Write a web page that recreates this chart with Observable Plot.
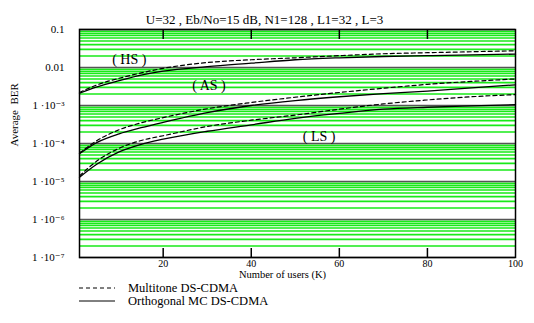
<!DOCTYPE html>
<html>
<head>
<meta charset="utf-8">
<script src="https://cdn.jsdelivr.net/npm/d3@7"></script>
<script src="https://cdn.jsdelivr.net/npm/@observablehq/plot@0.6"></script>
<style>
  body { margin: 0; background: #fff; }
  #chart { width: 534px; }
  #legend { position: relative; height: 38px; font-family: "Liberation Serif", "Times New Roman", "DejaVu Serif", serif; font-size: 12.5px; }
  .row { position: absolute; left: 79px; display: flex; align-items: center; line-height: 12px; height: 12px; }
  .row span { margin-left: 13px; }
</style>
</head>
<body>
<div id="chart"></div>
<div id="legend"></div>
<script>
const title = "U=32 , Eb/No=15 dB, N1=128 , L1=32 , L=3";
const users = [1, 5, 10, 15, 20, 30, 40, 50, 60, 70, 80, 90, 100];
const hsMultitone   = [0.0022, 0.0035, 0.0052, 0.0072, 0.0095, 0.0135, 0.016, 0.018, 0.0205, 0.023, 0.0245, 0.026, 0.0275];
const hsOrthogonal  = [0.0021, 0.0031, 0.0045, 0.0063, 0.0080, 0.0105, 0.013, 0.016, 0.018, 0.0195, 0.0205, 0.0215, 0.0225];
const asMultitone   = [5.6e-5, 1.2e-4, 2.3e-4, 3.5e-4, 4.8e-4, 8.2e-4, 1.2e-3, 1.65e-3, 2.2e-3, 2.85e-3, 3.6e-3, 4.3e-3, 5.0e-3];
const asOrthogonal  = [5.4e-5, 1.07e-4, 1.8e-4, 2.6e-4, 3.6e-4, 6.5e-4, 1.0e-3, 1.35e-3, 1.7e-3, 2.05e-3, 2.4e-3, 2.9e-3, 3.5e-3];
const lsMultitone   = [1.4e-5, 3.5e-5, 7.5e-5, 1.2e-4, 1.6e-4, 2.8e-4, 4.1e-4, 5.6e-4, 8.0e-4, 1.1e-3, 1.4e-3, 1.7e-3, 1.93e-3];
const lsOrthogonal  = [1.3e-5, 2.9e-5, 6.0e-5, 9.5e-5, 1.3e-4, 2.1e-4, 3.1e-4, 4.6e-4, 6.2e-4, 8.0e-4, 9.0e-4, 9.8e-4, 1.05e-3];
const regionLabels = ["( HS )", "( AS )", "( LS )"];
const regionLabelK = [12.3, 30.4, 55.4];
const regionLabelBER = [0.016, 0.0033, 1.5e-4];
const xTicks = [20, 40, 60, 80, 100];
const yTicks = [0.1, 0.01, 1e-3, 1e-4, 1e-5, 1e-6, 1e-7];
const yTickLabels = ["0.1", "0.01", "1 ·10⁻³", "1 ·10⁻⁴", "1 ·10⁻⁵", "1 ·10⁻⁶", "1 ·10⁻⁷"];
const seriesNames = ["Multitone DS-CDMA", "Orthogonal MC DS-CDMA"];

const FONT = "Liberation Serif, Times New Roman, DejaVu Serif, serif";

const rows = [];
const groups = [
  ["HS", "Multitone", hsMultitone], ["HS", "Orthogonal", hsOrthogonal],
  ["AS", "Multitone", asMultitone], ["AS", "Orthogonal", asOrthogonal],
  ["LS", "Multitone", lsMultitone], ["LS", "Orthogonal", lsOrthogonal]
];
for (const [g, s, vals] of groups) users.forEach((k, i) => rows.push({group: g, series: s, key: g + s, K: k, ber: vals[i]}));

const minor = [];
for (let e = -7; e < -1; e++) for (let m = 2; m <= 9; m++) minor.push(m * Math.pow(10, e));

const labels = regionLabels.map((t, i) => ({t, K: regionLabelK[i], ber: regionLabelBER[i]}));
const yFmt = d => {
  let best = 0;
  yTicks.forEach((t, i) => { if (Math.abs(Math.log10(t) - Math.log10(d)) < Math.abs(Math.log10(yTicks[best]) - Math.log10(d))) best = i; });
  return yTickLabels[best];
};

const plot = Plot.plot({
  width: 534,
  height: 282,
  marginLeft: 79,
  marginRight: 19,
  marginTop: 29,
  marginBottom: 25,
  style: {background: "#fff", fontFamily: FONT},
  x: {domain: [1, 100]},
  y: {type: "log", domain: [1e-7, 0.1]},
  marks: [
    Plot.ruleY(minor, {stroke: "#19ea19", strokeWidth: 1.6}),
    Plot.ruleY(yTicks, {stroke: "#555", strokeWidth: 1.6}),
    Plot.line(rows.filter(d => d.series === "Orthogonal"), {x: "K", y: "ber", z: "key", stroke: "black", strokeWidth: 1.3, curve: "monotone-x"}),
    Plot.line(rows.filter(d => d.series === "Multitone"), {x: "K", y: "ber", z: "key", stroke: "black", strokeWidth: 1.2, strokeDasharray: "4,3", curve: "monotone-x"}),
    Plot.text(labels, {x: "K", y: "ber", text: "t", fontSize: 14, fill: "black", fontFamily: FONT}),
    Plot.frame({stroke: "black", strokeWidth: 1.5}),
    Plot.axisX({anchor: "bottom", ticks: xTicks, tickSize: 0, tickPadding: 2, fontSize: 10, fontFamily: FONT, label: null}),
    Plot.axisX({anchor: "bottom", ticks: xTicks.slice(0, 4), tickSize: -9, strokeWidth: 1.5, tickFormat: () => "", label: null}),
    Plot.axisX({anchor: "top", ticks: xTicks.slice(0, 4), tickSize: -9, strokeWidth: 1.5, tickFormat: () => "", label: null}),
    Plot.axisY({ticks: yTicks, tickSize: 0, tickPadding: 15, fontSize: 11, fontFamily: FONT, tickFormat: yFmt, label: null}),
    Plot.text([title], {frameAnchor: "top", dy: -15, dx: -33, fontSize: 13, fontFamily: FONT}),
    Plot.text(["Number of users (K)"], {frameAnchor: "bottom", dy: 20, dx: -15, fontSize: 10.5, fontFamily: FONT}),
    Plot.text(["Average  BER"], {frameAnchor: "left", dx: -65, dy: 3, rotate: -90, fontSize: 11, fontFamily: FONT})
  ]
});
plot.setAttribute("font-family", FONT);
document.getElementById("chart").appendChild(plot);

const legend = document.getElementById("legend");
seriesNames.forEach((name, i) => {
  const row = document.createElement("div");
  row.className = "row";
  row.style.top = (i * 13) + "px";
  row.innerHTML = `<svg width="36" height="10"><line x1="0" x2="36" y1="5" y2="5" stroke="black" stroke-width="1" ${i === 0 ? 'stroke-dasharray="4,3"' : ''}/></svg><span>${name}</span>`;
  legend.appendChild(row);
});
</script>
</body>
</html>
